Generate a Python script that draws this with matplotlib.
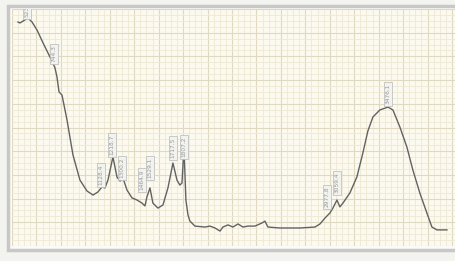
"""Scanned spectrum on grid paper: trace with boxed peak labels."""

import matplotlib

matplotlib.use("Agg")
import matplotlib.pyplot as plt
from matplotlib.patches import Rectangle
import numpy as np

# trace (wavenumber cm-1, signal %)
wavenumber = [
    449, 465, 506, 531, 564, 605, 654, 711, 735, 752, 768, 785, 809, 850, 899,
    956, 1014, 1063, 1103, 1136, 1161, 1185, 1226, 1259, 1284, 1308, 1341, 1382,
    1423, 1464, 1488, 1504, 1529, 1553, 1594, 1635, 1676, 1717, 1750, 1774, 1791,
    1807, 1823, 1840, 1856, 1897, 1979, 2020, 2061, 2102, 2126, 2167, 2208, 2249,
    2290, 2331, 2388, 2445, 2470, 2494, 2592, 2756, 2879, 2920, 2961, 3001, 3026,
    3059, 3083, 3108, 3165, 3222, 3271, 3312, 3353, 3410, 3476, 3517, 3574, 3631,
    3680, 3737, 3795, 3836, 3877, 3959,
]
signal = [
    94.5, 94.1, 95.4, 96.2, 94.5, 91.1, 85.7, 79.7, 77.2, 75.1, 71.3, 65.0, 63.7,
    53.2, 38.4, 27.8, 23.2, 21.5, 22.8, 24.9, 24.5, 27.8, 37.6, 29.1, 27.4, 28.7,
    23.6, 20.3, 19.4, 18.1, 16.9, 20.7, 24.5, 18.1, 16.0, 17.3, 24.5, 35.0, 27.8,
    25.7, 26.6, 41.8, 19.4, 13.1, 10.5, 8.4, 8.0, 8.4, 7.6, 6.3, 8.0, 8.9, 8.0,
    9.3, 8.0, 8.4, 8.4, 9.7, 10.5, 8.0, 7.6, 7.6, 8.0, 9.3, 11.8, 13.9, 16.0,
    19.4, 16.5, 18.1, 22.4, 29.1, 39.2, 48.5, 54.4, 57.4, 58.6, 57.4, 50.2, 41.8,
    32.1, 22.4, 13.9, 8.0, 6.8, 6.8,
]

# peak markers: position, label text, height where the box starts
peak_pos = [523, 744, 1128, 1218, 1300, 1464, 1529, 1717, 1807, 2977, 3059, 3476]
peak_text = [
    "523.6", "744.3", "1128.4", "1218.7", "1300.2", "1464.9", "1529.1",
    "1717.5", "1807.2", "2977.8", "3059.4", "3476.1",
]
peak_base = [96.5, 77.5, 25.7, 38.4, 28.7, 23.6, 28.7, 37.1, 37.6, 16.5, 22.4, 60.0]

W, H = 455, 261
fig = plt.figure(figsize=(W / 100, H / 100), dpi=100)
fig.patch.set_facecolor("#f3f3f0")

# gray scan frame around the paper
fig.patches.append(
    Rectangle((8 / W, 1 - 250 / H), 460 / W, 244 / H, transform=fig.transFigure,
              facecolor="#fafaf6", edgecolor="#c8c8c8", linewidth=2.5, zorder=-1)
)

ax = fig.add_axes([12 / W, 1 - 246 / H, 443 / W, 237 / H])
ax.set_facecolor("#fcfaef")
ax.set_xlim(400, 4025)
ax.set_ylim(0, 100)
ax.set_xticks(np.arange(400, 4025, 200))
ax.set_xticks(np.arange(400, 4025, 50), minor=True)
ax.set_yticks(np.arange(0, 101, 10))
ax.set_yticks(np.arange(0, 101, 2.5), minor=True)
ax.grid(True, which="minor", color="#eee9d4", linewidth=0.6)
ax.grid(True, which="major", color="#dfd9c2", linewidth=0.8)
ax.set_axisbelow(True)
ax.tick_params(which="both", length=0, labelbottom=False, labelleft=False)
for spine in ax.spines.values():
    spine.set_visible(False)

ax.plot(wavenumber, signal, color="#626262", linewidth=1.0)

for pos, text, base in zip(peak_pos, peak_text, peak_base):
    ax.text(pos, base, text, rotation=90, ha="center", va="bottom",
            fontsize=4.2, color="#999999", clip_on=True,
            bbox=dict(boxstyle="square,pad=0.3", facecolor="#f2f2ee",
                      edgecolor="#b8b8b8", linewidth=0.5))

fig.savefig("out.png", dpi=100, facecolor=fig.get_facecolor())
